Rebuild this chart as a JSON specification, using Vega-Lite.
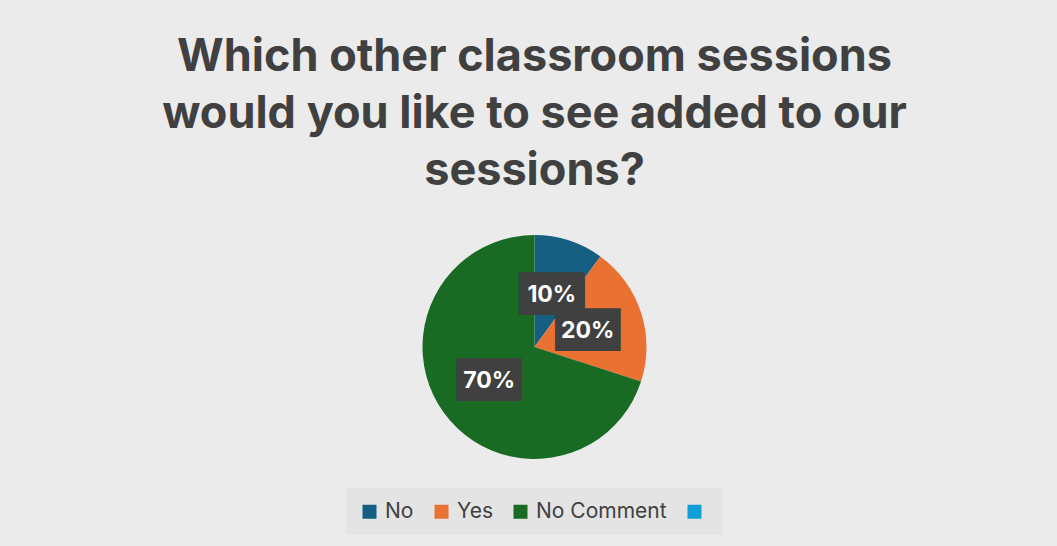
{
  "$schema": "https://vega.github.io/schema/vega-lite/v6.json",
  "width": 1057,
  "height": 546,
  "autosize": {"type": "fit", "contains": "padding"},
  "padding": {"left": 12, "right": 0, "top": 35, "bottom": 11},
  "background": "#ebebeb",
  "config": {"view": {"stroke": null}, "legend": {"layout": {"bottom": {"anchor": "middle"}}}},
  "title": {
    "text": ["Which other classroom sessions", "would you like to see added to our", "sessions?"],
    "font": "Inter",
    "fontSize": 45,
    "fontWeight": "bold",
    "color": "#404040",
    "lineHeight": 57,
    "anchor": "middle",
    "offset": 16
  },
  "data": {
    "values": [
      {"category": "No", "value": 10, "label": "10%", "idx": 1},
      {"category": "Yes", "value": 20, "label": "20%", "idx": 2},
      {"category": "No Comment", "value": 70, "label": "70%", "idx": 3},
      {"category": "(blank)", "value": 0, "label": "", "idx": 4}
    ]
  },
  "encoding": {
    "theta": {"field": "value", "type": "quantitative", "stack": true},
    "order": {"field": "idx", "type": "quantitative"}
  },
  "layer": [
    {
      "mark": {"type": "arc", "outerRadius": 112},
      "encoding": {
        "color": {
          "field": "category",
          "type": "nominal",
          "sort": ["No", "Yes", "No Comment", "(blank)"],
          "scale": {
            "domain": ["No", "Yes", "No Comment", "(blank)"],
            "range": ["#156082", "#E97132", "#196B24", "#0F9ED5"]
          },
          "legend": {
            "title": null,
            "orient": "bottom",
            "direction": "horizontal",
            "symbolType": "square",
            "symbolSize": 196,
            "symbolStrokeWidth": 0,
            "labelFont": "Inter",
            "labelFontSize": 21,
            "labelColor": "#404040",
            "labelOffset": 5,
            "columnPadding": 17,
            "padding": 13,
            "fillColor": "#e4e4e4",
            "offset": 4,
            "labelExpr": "datum.label == '(blank)' ? '' : datum.label"
          }
        }
      }
    },
    {
      "transform": [{"filter": "datum.value > 0"}],
      "mark": {"type": "text", "radius": 56, "dy": 1, "text": "███", "font": "DejaVu Sans Mono", "fontSize": 36, "color": "#404040", "baseline": "middle"}
    },
    {
      "transform": [{"filter": "datum.value > 0"}],
      "mark": {"type": "text", "radius": 56, "dy": 1, "font": "Inter", "fontSize": 23, "fontWeight": "bold", "color": "#ffffff", "baseline": "middle"},
      "encoding": {"text": {"field": "label"}}
    }
  ]
}
